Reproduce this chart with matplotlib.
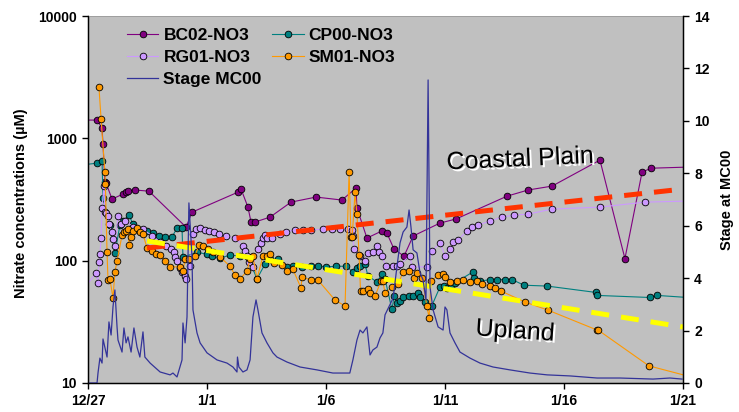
import matplotlib
matplotlib.use('Agg')
import matplotlib.pyplot as plt
import matplotlib.patheffects as pe
from matplotlib.ticker import NullLocator

plt.rcParams['font.family'] = ['Liberation Sans', 'DejaVu Sans']
plt.rcParams['font.weight'] = 'bold'
plt.rcParams['axes.labelweight'] = 'bold'

# days since 12/27
date_ticks = [0, 5, 10, 15, 20, 25]
date_labels = ['12/27', '1/1', '1/6', '1/11', '1/16', '1/21']

bc02_day = [-0.3, 0.38, 0.59, 0.63, 0.71, 0.76, 1.01, 1.47, 1.60, 1.68, 1.97, 2.56,
            4.12, 4.37, 6.30, 6.43, 6.72, 6.85, 7.02, 7.65, 8.53, 9.58, 10.67, 11.26,
            11.30, 11.72, 12.35, 12.56, 12.86, 13.28, 13.66, 14.79, 15.46, 17.61, 18.49,
            19.50, 21.51, 22.56, 23.28, 23.66, 25.2]
bc02 = [1410, 1410, 1210, 897, 439, 430, 319, 350, 363, 370, 378, 370,
        188, 249, 363, 385, 274, 207, 207, 227, 301, 331, 313, 392,
        269, 153, 175, 168, 124, 109, 159, 203, 219, 337, 378,
        407, 664, 104, 530, 570, 582]

cp00_day = [-0.3, 0.38, 0.59, 0.63, 0.92, 1.13, 1.34, 1.47, 1.72, 1.89, 2.18, 2.48,
            2.73, 2.98, 3.24, 3.53, 3.74, 3.95, 3.99, 4.58, 5.00, 5.21, 5.55, 5.97,
            6.39, 6.72, 7.10, 7.44, 7.65, 7.98, 8.36, 8.61, 8.99, 9.37, 9.66, 10.0,
            10.42, 10.84, 11.13, 11.30, 11.43, 11.64, 11.76, 12.14, 12.35, 12.48,
            12.77, 12.86, 12.98, 13.11, 13.24, 13.49, 13.66, 13.87, 13.95, 14.16,
            14.29, 14.45, 14.79, 14.96, 15.08, 15.25, 15.42, 16.18, 16.22, 16.47,
            16.89, 17.18, 17.52, 17.82, 18.32, 19.29, 21.34, 21.39, 23.61, 23.91, 25.2]
cp00 = [604, 627, 651, 324, 195, 115, 195, 211, 236, 199, 175, 175,
        168, 159, 156, 156, 185, 185, 107, 117, 113, 109, 105, 111,
        109, 107, 71, 94, 103, 103, 89, 90, 89, 90, 90, 89,
        90, 90, 81, 87, 90, 94, 75, 67, 78, 71,
        40, 51, 45, 47, 50, 51, 51, 54, 50, 46,
        43, 43, 61, 62, 60, 61, 66, 81, 72, 68,
        70, 70, 70, 70, 63, 62, 55, 52, 50, 52, 50]

rg01_day = [-0.3, 0.34, 0.42, 0.46, 0.50, 0.55, 0.59, 0.67, 0.71, 0.76, 0.84, 0.88,
            1.01, 1.05, 1.13, 1.26, 1.39, 1.55, 1.9, 2.3, 2.7, 3.03, 3.28, 3.49,
            3.61, 3.66, 3.74, 3.87, 3.95, 4.08, 4.12, 4.29, 4.41, 4.54, 4.71, 4.92,
            5.08, 5.29, 5.50, 5.80, 6.18, 6.51, 6.60, 6.68, 6.76, 6.93, 7.14, 7.27,
            7.35, 7.44, 7.52, 7.73, 8.07, 8.30, 8.70, 9.03, 9.37, 9.87, 10.25, 10.59,
            10.92, 11.09, 11.13, 11.18, 11.43, 11.64, 11.76, 11.97, 12.14, 12.23,
            12.35, 12.52, 12.82, 12.98, 13.11, 13.53, 13.61, 14.24, 14.45, 14.79,
            15.0, 15.21, 15.34, 15.55, 15.92, 16.13, 16.39, 16.89, 17.39, 17.90,
            18.49, 19.50, 21.51, 23.40, 25.2]
rg01 = [55, 79, 66, 97, 113, 153, 269, 407, 249, 245, 231, 199,
        171, 150, 131, 231, 199, 211, 190, 180, 160, 142, 131, 124,
        117, 107, 99, 87, 81, 75, 71, 90, 165, 181, 185, 178,
        175, 171, 165, 159, 153, 131, 120, 109, 97, 89, 124, 139,
        153, 162, 153, 153, 165, 172, 178, 178, 178, 181, 181, 181,
        181, 178, 159, 124, 109, 99, 115, 117, 131, 117,
        109, 90, 90, 90, 94, 109, 89, 89, 120, 139,
        109, 124, 142, 147, 175, 188, 195, 211, 227, 236,
        240, 264, 274, 301, 307]

sm01_day = [0.46, 0.55, 0.71, 0.73, 0.80, 0.84, 0.92, 1.05, 1.13, 1.22, 1.43, 1.51,
            1.60, 1.68, 1.72, 1.81, 1.89, 2.06, 2.18, 2.31, 2.48, 2.69, 2.86, 3.03,
            3.24, 3.45, 3.87, 3.99, 4.08, 4.24, 4.50, 4.66, 4.83, 5.04, 5.25, 5.55,
            5.97, 6.18, 6.39, 6.68, 6.81, 6.93, 7.10, 7.35, 7.52, 7.65, 7.82, 8.15,
            8.36, 8.61, 8.95, 8.99, 9.37, 9.66, 10.38, 10.80, 10.97, 11.05, 11.1,
            11.22, 11.30, 11.39, 11.45, 11.55, 11.76, 11.85, 12.06, 12.31, 12.39,
            12.48, 12.77, 13.03, 13.24, 13.49, 13.70, 13.82, 14.03, 14.24, 14.33,
            14.41, 14.71, 14.92, 15.0, 15.21, 15.50, 15.76, 16.05, 16.34, 16.55,
            16.89, 17.10, 17.35, 18.36, 19.33, 21.39, 21.43, 23.57, 25.2]
sm01 = [2620, 1435, 530, 423, 117, 69, 71, 49.5, 81, 99, 162, 171,
        175, 181, 134, 156, 175, 185, 171, 165, 127, 120, 113, 111,
        99, 89, 89, 82, 103, 103, 109, 134, 131, 124, 117, 107,
        90, 76, 71, 82, 103, 109, 71, 109, 109, 113, 95.5, 92,
        82, 85, 59.7, 73.5, 69.5, 69.5, 47.6, 42.6, 530, 156, 156,
        363, 240, 111, 56.5, 56.5, 58.6, 54.3, 51.4, 68, 68,
        54.3, 60.8, 64.4, 81, 82, 72, 79, 72, 42.6, 34,
        68, 76, 78, 73.5, 67, 68, 69.5, 67, 68, 64.4,
        62, 59.7, 56.5, 45.9, 39.4, 27.1, 27.1, 13.8, 11.4]

stage_day = [0.0, 0.38, 0.42, 0.50, 0.59, 0.63, 0.80, 0.88, 0.97, 1.05, 1.13, 1.22,
             1.26, 1.43, 1.51, 1.60, 1.68, 1.81, 1.93, 2.06, 2.18, 2.31, 2.39, 2.61,
             3.03, 3.45, 3.57, 3.74, 3.95, 3.99, 4.08, 4.16, 4.24, 4.37, 4.41, 4.58,
             4.71, 5.0, 5.42, 5.84, 6.09, 6.26, 6.28, 6.34, 6.51, 6.68, 6.81, 6.93,
             7.06, 7.14, 7.31, 7.52, 7.77, 7.94, 8.36, 8.91, 9.62, 10.29, 11.0, 11.13,
             11.30, 11.43, 11.55, 11.72, 11.85, 11.97, 12.14, 12.27, 12.39, 12.48,
             12.82, 12.98, 13.11, 13.24, 13.40, 13.49, 13.57, 13.66, 13.82, 13.95,
             14.08, 14.2, 14.29, 14.37, 14.50, 14.71, 14.92, 15.0, 15.08, 15.21,
             15.42, 15.63, 16.05, 16.47, 17.02, 17.73, 18.57, 19.29, 20.25, 21.39,
             22.35, 23.74, 24.45, 24.96]
stage = [0.0, 0.0, 0.38, 0.95, 0.76, 1.68, 0.99, 2.33, 1.83, 2.90, 3.55, 2.14,
         1.64, 1.18, 2.10, 1.53, 1.76, 1.18, 2.10, 1.37, 0.99, 1.95, 0.99, 0.76,
         0.42, 0.31, 0.38, 0.23, 0.88, 2.29, 1.53, 2.52, 6.87, 4.81, 2.79, 1.91,
         1.53, 1.15, 0.88, 0.76, 0.61, 0.42, 0.99, 0.61, 0.42, 0.50, 0.88, 2.52,
         3.17, 2.79, 1.91, 1.53, 1.15, 0.99, 0.80, 0.61, 0.50, 0.38, 0.38, 0.88,
         1.64, 2.02, 1.91, 2.14, 1.07, 1.26, 1.37, 1.72, 1.91, 2.60,
         3.24, 4.43, 5.34, 5.76, 5.95, 6.60, 5.95, 5.08, 4.96, 4.20,
         3.93, 3.17, 11.56, 3.66, 2.79, 2.14, 2.02, 2.90, 2.79, 1.91,
         1.53, 1.18, 0.95, 0.76, 0.61, 0.50, 0.38, 0.31, 0.27, 0.19,
         0.19, 0.15, 0.19, 0.15]

# trend lines (exponential fits, end points)
coastal_trend_day = [2.48, 25]
coastal_trend = [127, 385]
upland_trend_day = [2.48, 25]
upland_trend = [145, 28.7]

fig = plt.figure(figsize=(7.39, 4.12), dpi=100)
ax = fig.add_axes([88 / 739, 29 / 412, 595 / 739, 367 / 412])
ax.set_facecolor('#C0C0C0')

mk = dict(marker='o', ms=4.8, mec='black', mew=0.6, lw=0.8)
ax.plot(bc02_day, bc02, color='#800080', mfc='#800080', label='BC02-NO3', **mk)
ax.plot(cp00_day, cp00, color='#008080', mfc='#008080', label='CP00-NO3', **mk)
ax.plot(rg01_day, rg01, color='#CC99FF', mfc='#CC99FF', label='RG01-NO3', **mk)
ax.plot(sm01_day, sm01, color='#FF9900', mfc='#FF9900', label='SM01-NO3', **mk)

ax.plot(coastal_trend_day, coastal_trend, color='#FF3300', lw=3.6, dashes=(3.6, 2.4))
ax.plot(upland_trend_day, upland_trend, color='#FFFF00', lw=3.6, dashes=(3.6, 2.4))

ax.set_yscale('log')
ax.set_ylim(10, 10000)
ax.set_xlim(0, 25)
ax.set_yticks([10, 100, 1000, 10000])
ax.set_yticklabels(['10', '100', '1000', '10000'])
ax.yaxis.set_minor_locator(NullLocator())
ax.set_xticks(date_ticks)
ax.set_xticklabels(date_labels)
ax.tick_params(direction='out', length=4, width=1, labelsize=10, pad=4)
ax.set_ylabel('Nitrate concentrations (µM)', fontsize=10.5)
ax.yaxis.set_label_coords(-0.1, 0.49)

for s in ['left', 'bottom']:
    ax.spines[s].set_linewidth(1)
ax.spines['top'].set_color('#999999')
ax.spines['top'].set_linewidth(0.6)

ax2 = ax.twinx()
ax2.plot(stage_day, stage, color='#333399', lw=0.9, label='Stage MC00')
ax2.set_ylim(0, 14)
ax2.set_yticks(range(0, 15, 2))
ax2.tick_params(direction='out', length=4, width=1, labelsize=10, pad=4)
ax2.set_ylabel('Stage at MC00', fontsize=10.5, rotation=90)
ax2.yaxis.set_label_coords(1.062, 0.5)
ax2.spines['right'].set_linewidth(1)
ax2.spines['top'].set_visible(False)

ax.text(18.15, 676, 'Coastal Plain', fontsize=18, fontweight='normal', rotation=2.6,
        ha='center', va='center',
        path_effects=[pe.withSimplePatchShadow(offset=(1.5, -1.5), shadow_rgbFace='white', alpha=1.0)])
ax.text(17.94, 26.6, 'Upland', fontsize=18, fontweight='normal', rotation=-4,
        ha='center', va='center',
        path_effects=[pe.withSimplePatchShadow(offset=(1.5, -1.5), shadow_rgbFace='white', alpha=1.0)])

h1, l1 = ax.get_legend_handles_labels()
h2, l2 = ax2.get_legend_handles_labels()
handles = [h1[0], h1[2], h2[0], h1[1], h1[3]]
labels = [l1[0], l1[2], l2[0], l1[1], l1[3]]
ax2.legend(handles, labels, ncol=2, loc='upper left', frameon=False, fontsize=12.5,
           bbox_to_anchor=(127 / 739, 1 - 28 / 412), bbox_transform=fig.transFigure,
           borderpad=0, borderaxespad=0, labelspacing=0.4, handlelength=1.8,
           handletextpad=0.3, columnspacing=0.6)

fig.savefig('out.png', dpi=100)
